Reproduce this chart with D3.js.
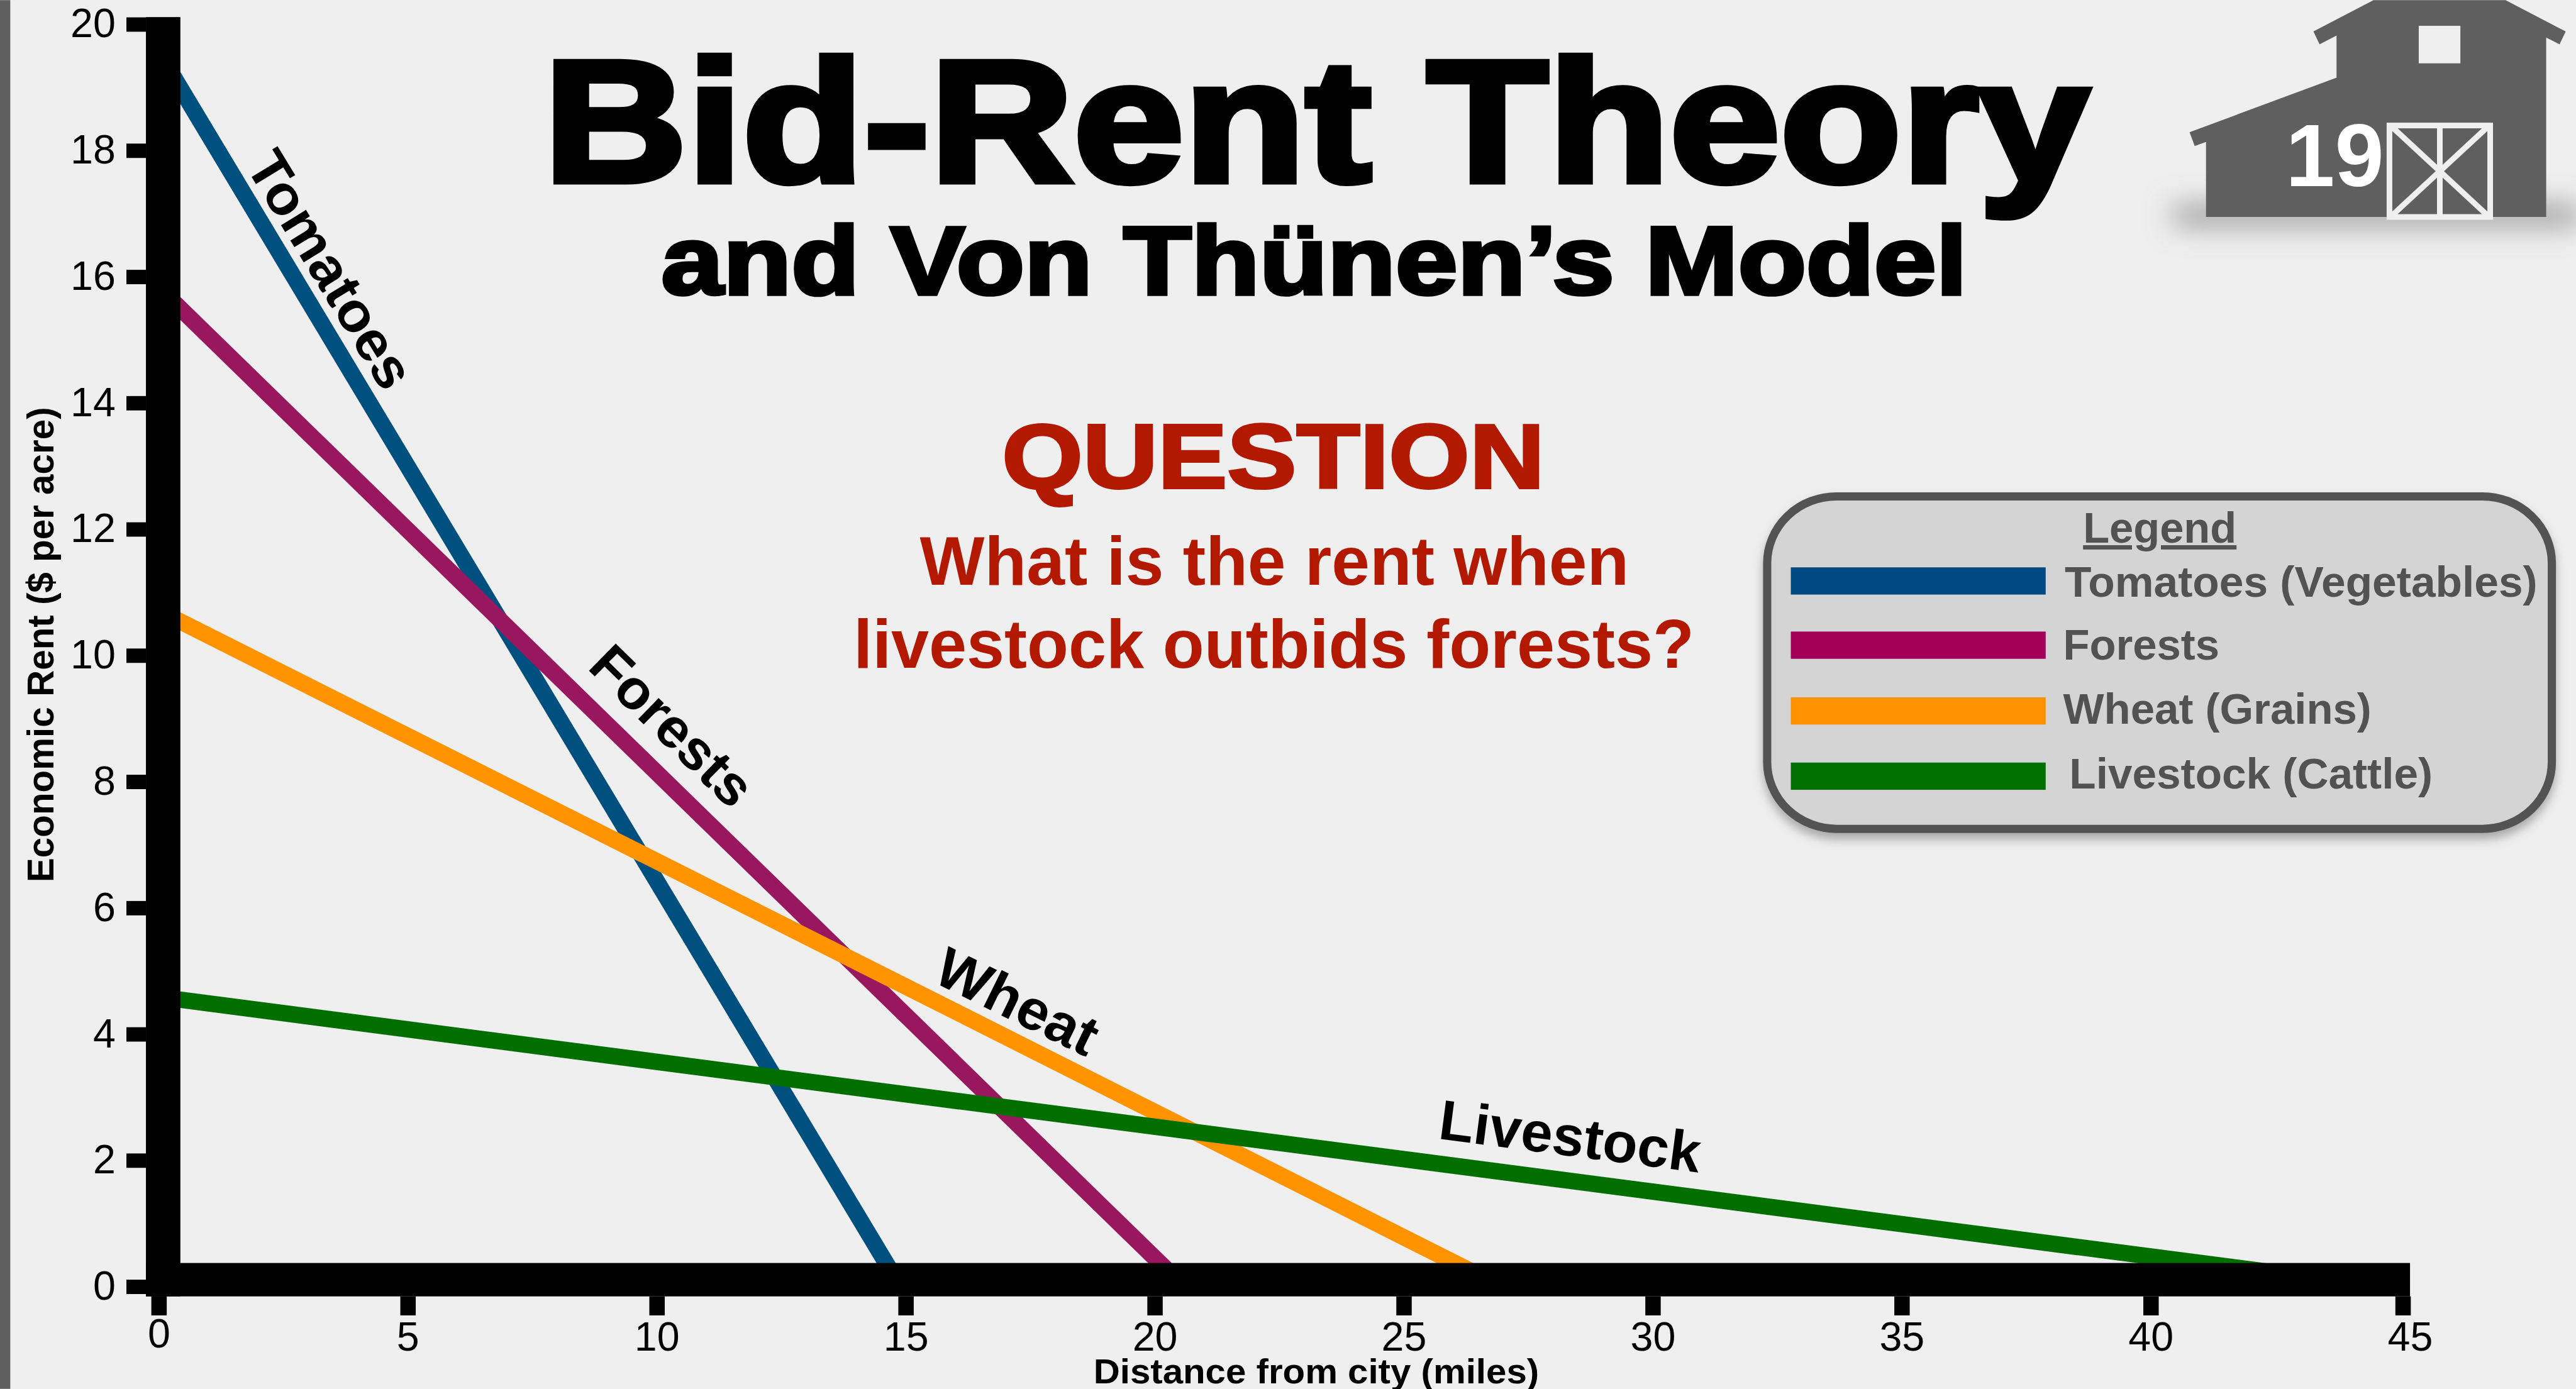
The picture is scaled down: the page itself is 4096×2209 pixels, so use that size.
<!DOCTYPE html>
<html>
<head>
<meta charset="utf-8">
<script src="https://cdn.jsdelivr.net/npm/d3@7"></script>
<style>
  html, body { margin: 0; padding: 0; background: #efefef; overflow: hidden; }
  svg { display: block; }
  text { font-family: "Liberation Sans", Arial, sans-serif; }
</style>
</head>
<body>
<div id="chart"></div>
<script>
const xTicks = [0, 5, 10, 15, 20, 25, 30, 35, 40, 45];
const yTicks = [0, 2, 4, 6, 8, 10, 12, 14, 16, 18, 20];

// each crop is two points: rent at 0 miles, and where it hits 0
const crops = ["Tomatoes", "Forests", "Wheat", "Livestock"];
const legendNames = ["Tomatoes (Vegetables)", "Forests", "Wheat (Grains)", "Livestock (Cattle)"];
const distances = [[0, 14.89], [0, 20.59], [0, 26.97], [0, 44.64]];
const rents = [[19.56, 0], [15.83, 0], [10.71, 0], [4.59, 0]];

const lineColors = ["#00507f", "#99175f", "#ff9400", "#006f00"];
const swatchColors = ["#004982", "#a3005a", "#ff9200", "#007000"];

// reference pixels, the viewBox does the 0.817 scaling
const width = 5013, height = 2703;

const svg = d3.select("#chart")
    .append("svg")
    .attr("width", 4096)
    .attr("height", 2209)
    .attr("viewBox", `0 0 ${width} ${height}`);

const defs = svg.append("defs");

const legendShadow = defs.append("filter")
    .attr("id", "legend-shadow")
    .attr("x", "-5%").attr("y", "-5%")
    .attr("width", "110%").attr("height", "115%");
legendShadow.append("feDropShadow")
    .attr("dx", 0).attr("dy", 12)
    .attr("stdDeviation", 10)
    .attr("flood-color", "#000")
    .attr("flood-opacity", 0.3);

const barnShadow = defs.append("filter")
    .attr("id", "barn-shadow")
    .attr("x", "-20%").attr("y", "-300%")
    .attr("width", "140%").attr("height", "700%");
barnShadow.append("feGaussianBlur").attr("stdDeviation", 28);

svg.append("rect")
    .attr("width", width).attr("height", height)
    .attr("fill", "#efefef");

svg.append("rect")
    .attr("width", 20).attr("height", height)
    .attr("fill", "#5f5f5f");

const x = d3.scaleLinear().domain([0, 45]).range([309, 4670]);
const y = d3.scaleLinear().domain([0, 20]).range([2504, 47]);

const line = d3.line()
    .x(d => x(d[0]))
    .y(d => y(d[1]));

svg.selectAll("path.crop")
    .data(crops)
    .enter()
    .append("path")
    .attr("class", "crop")
    .attr("d", (d, i) => line(d3.zip(distances[i], rents[i])))
    .attr("fill", "none")
    .attr("stroke", (d, i) => lineColors[i])
    .attr("stroke-width", 32);

// thick axis bars
svg.append("rect")
    .attr("x", 284).attr("y", y(20) - 14)
    .attr("width", 67).attr("height", 2523 - (y(20) - 14))
    .attr("fill", "#000");

svg.append("rect")
    .attr("x", 284).attr("y", 2458)
    .attr("width", 4690 - 284).attr("height", 65)
    .attr("fill", "#000");

const yAxis = svg.append("g")
    .attr("transform", "translate(284,0)")
    .call(d3.axisLeft(y).tickValues(yTicks).tickSize(38).tickPadding(21));

const xAxis = svg.append("g")
    .attr("transform", "translate(0,2523)")
    .call(d3.axisBottom(x).tickValues(xTicks).tickSize(37));

yAxis.select(".domain").remove();
xAxis.select(".domain").remove();

yAxis.selectAll("line").attr("stroke", "#000").attr("stroke-width", 28);
xAxis.selectAll("line")
    .attr("stroke", "#000")
    .attr("stroke-width", 30)
    .attr("x1", d => d === 45 ? 6 : 0)
    .attr("x2", d => d === 45 ? 6 : 0);

yAxis.selectAll("text")
    .attr("dy", 25)
    .attr("font-size", 79)
    .attr("font-family", "Liberation Sans")
    .attr("fill", "#000");

// the last x label sits a little right of its tick in the original
xAxis.selectAll("text")
    .attr("x", d => d === 45 ? 20 : 0)
    .attr("y", d => d === 0 ? 99 : 106)
    .attr("dy", 0)
    .attr("font-size", 79)
    .attr("font-family", "Liberation Sans")
    .attr("fill", "#000");

svg.append("text")
    .attr("x", 2128).attr("y", 2692)
    .attr("font-size", 67).attr("font-weight", "bold")
    .attr("textLength", 867).attr("lengthAdjust", "spacingAndGlyphs")
    .text("Distance from city (miles)");

svg.append("text")
    .attr("transform", "translate(104,1717) rotate(-90)")
    .attr("font-size", 72).attr("font-weight", "bold")
    .attr("textLength", 925).attr("lengthAdjust", "spacingAndGlyphs")
    .text("Economic Rent ($ per acre)");

// labels sitting along the lines
const labelPos = [[476, 322, 58.6, 108, 520], [1141, 1300, 44.5, 108, 396], [1812, 1909, 26.2, 110, 337], [2797, 2216, 7.4, 110, 512]];

svg.selectAll("text.crop-label")
    .data(crops)
    .enter()
    .append("text")
    .attr("class", "crop-label")
    .attr("transform", (d, i) => `translate(${labelPos[i][0]},${labelPos[i][1]}) rotate(${labelPos[i][2]})`)
    .attr("font-size", (d, i) => labelPos[i][3])
    .attr("font-weight", "bold")
    .attr("textLength", (d, i) => labelPos[i][4])
    .attr("lengthAdjust", "spacingAndGlyphs")
    .text(d => d);

// title block
function heavyText(str, xPos, yPos, size, len, stroke, color) {
    svg.append("text")
        .attr("x", xPos).attr("y", yPos)
        .attr("font-size", size).attr("font-weight", "bold")
        .attr("textLength", len).attr("lengthAdjust", "spacingAndGlyphs")
        .attr("fill", color)
        .attr("stroke", color).attr("stroke-width", stroke)
        .text(str);
}

heavyText("Bid-Rent Theory", 1058, 353, 338, 3008, 12, "#000");
heavyText("and Von Thünen’s Model", 1287, 572, 189, 2541, 7, "#000");
heavyText("QUESTION", 1950, 950, 178, 1056, 5, "#b31900");
heavyText("What is the rent when", 1790, 1138, 133, 1380, 0, "#b31900");
heavyText("livestock outbids forests?", 1661, 1300, 133, 1636, 0, "#b31900");

// legend
svg.append("rect")
    .attr("x", 3439).attr("y", 966)
    .attr("width", 1527).attr("height", 647)
    .attr("rx", 135).attr("ry", 130)
    .attr("fill", "#d4d4d4")
    .attr("stroke", "#525252").attr("stroke-width", 16)
    .attr("filter", "url(#legend-shadow)");

svg.append("text")
    .attr("x", 4203).attr("y", 1056)
    .attr("text-anchor", "middle")
    .attr("font-size", 84).attr("font-weight", "bold")
    .attr("text-decoration", "underline")
    .attr("fill", "#525252")
    .text("Legend");

const swatchY = [1104, 1229, 1357, 1484];
const legendTextPos = [[4018, 1161, 920], [4015, 1283, 304], [4015, 1409, 600], [4027, 1535, 707]];

svg.selectAll("rect.swatch")
    .data(crops)
    .enter()
    .append("rect")
    .attr("class", "swatch")
    .attr("x", 3485)
    .attr("y", (d, i) => swatchY[i])
    .attr("width", 496).attr("height", 53)
    .attr("fill", (d, i) => swatchColors[i]);

svg.selectAll("text.legend-label")
    .data(legendNames)
    .enter()
    .append("text")
    .attr("class", "legend-label")
    .attr("x", (d, i) => legendTextPos[i][0])
    .attr("y", (d, i) => legendTextPos[i][1])
    .attr("font-size", 83).attr("font-weight", "bold")
    .attr("textLength", (d, i) => legendTextPos[i][2])
    .attr("lengthAdjust", "spacingAndGlyphs")
    .attr("fill", "#525252")
    .text(d => d);

// barn icon, top right
const barnColor = "#5f5f5f", barnCut = "#efefef";
const barnOutline = [[4619, 0], [4876, 0], [4993, 61], [4981, 86], [4955, 73], [4955, 422], [4293, 422], [4293, 276], [4271, 284], [4261, 257], [4547, 151], [4547, 69], [4514, 86], [4502, 61]];

svg.append("rect")
    .attr("x", 4230).attr("y", 402)
    .attr("width", 790).attr("height", 34)
    .attr("fill", "#888")
    .attr("filter", "url(#barn-shadow)");

svg.append("path")
    .attr("d", d3.line()(barnOutline) + "Z")
    .attr("fill", barnColor);

svg.append("rect")
    .attr("x", 4707).attr("y", 50)
    .attr("width", 81).attr("height", 73)
    .attr("fill", barnCut);

const door = svg.append("g")
    .attr("stroke", barnCut).attr("stroke-width", 11).attr("fill", "none");
door.append("rect").attr("x", 4650).attr("y", 244).attr("width", 196).attr("height", 178);
door.append("line").attr("x1", 4748).attr("x2", 4748).attr("y1", 244).attr("y2", 422);
door.append("line").attr("x1", 4652).attr("x2", 4844).attr("y1", 244).attr("y2", 422);
door.append("line").attr("x1", 4844).attr("x2", 4652).attr("y1", 244).attr("y2", 422);

svg.append("text")
    .attr("x", 4448).attr("y", 362)
    .attr("font-size", 172).attr("font-weight", "bold")
    .attr("fill", "#fff")
    .text("19");
</script>
</body>
</html>
